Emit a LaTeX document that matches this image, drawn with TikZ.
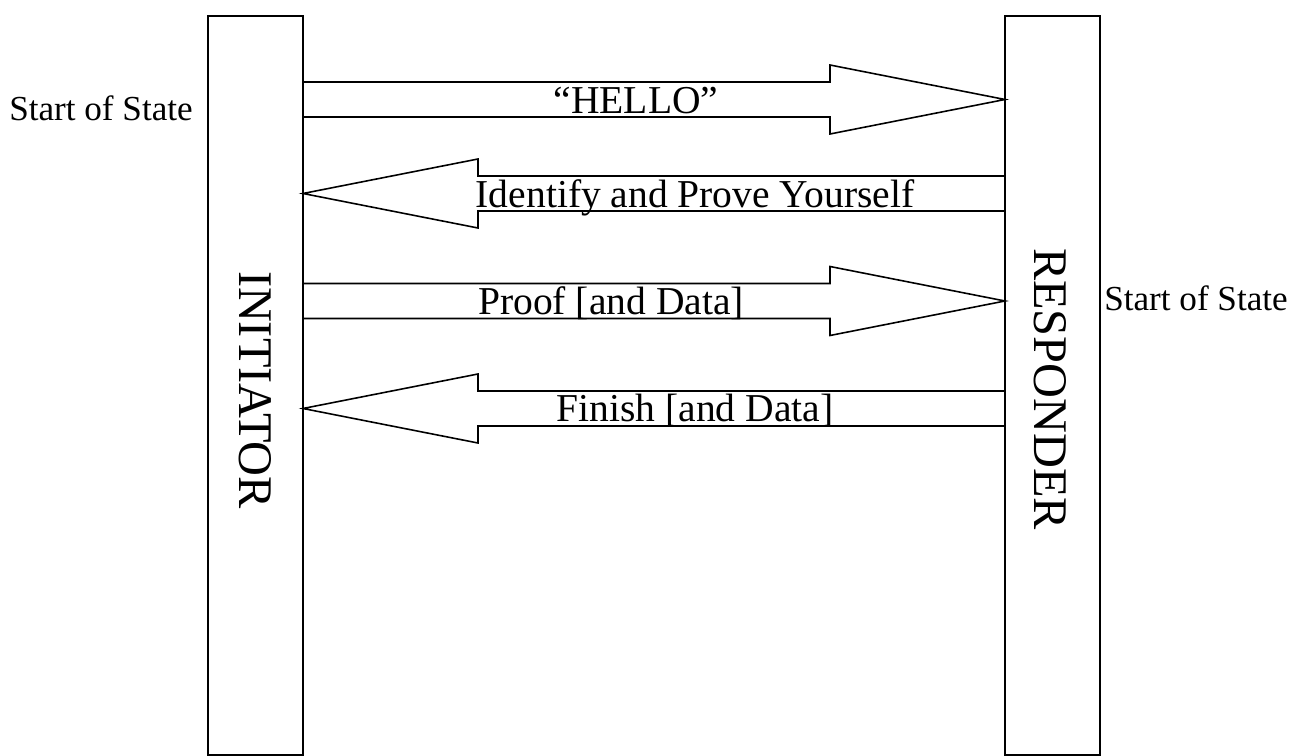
\documentclass[tikz,border=0pt]{standalone}
\usepackage{fontspec}
\setmainfont{Liberation Serif}
\tikzset{
  party/.style={draw, line width=1.1pt, minimum width=1.9cm, minimum height=14.78cm,
    anchor=north west, inner sep=0pt, outer sep=0pt},
  partyname/.style={rotate=-90, inner sep=0pt, font=\fontsize{27.5}{32}\selectfont},
  msg/.style={anchor=base, inner sep=0pt, font=\fontsize{22.5}{26}\selectfont},
  note/.style={inner sep=0pt, font=\fontsize{20}{24}\selectfont},
  block/.style={line width=0.9pt}
}
% block arrows between the two parties, #1 = y of the centre line
\def\rblock#1{(init.east |- 0,#1-17.5) -- ++(527,0) -- ++(0,-17) -- (resp.west |- 0,#1) -- ++(-175,34.5) -- ++(0,-17) -- (init.east |- 0,#1+17.5)}
\def\lblock#1{(resp.west |- 0,#1-17.5) -- ++(-527,0) -- ++(0,-17) -- (init.east |- 0,#1) -- ++(175,34.5) -- ++(0,-17) -- (resp.west |- 0,#1+17.5)}

\begin{document}
\begin{tikzpicture}[x=0.02cm, y=-0.02cm]
  \useasboundingbox (0,0) rectangle (1298,756);
  \node[party] (init) at (208,16) {};
  \node[party] (resp) at (1005,16) {};
  \node[partyname] (initname) at (255,390) {INITIATOR};
  \node[partyname] (respname) at (1050,389) {RESPONDER};

  \draw[block] \rblock{99.5};
  \draw[block] \lblock{193.5};
  \draw[block] \rblock{301};
  \draw[block] \lblock{408.5};

  \node[msg] (hello) at (636,113.5) {“HELLO”};
  \node[msg] (identify) at (695,207.5) {Identify and Prove Yourself};
  \node[msg] (proof) at (611,315) {Proof [and Data]};
  \node[msg] (finish) at (695,422) {Finish [and Data]};

  \node[note] (startl) at (101,108) {Start of State};
  \node[note] (startr) at (1196,298) {Start of State};
\end{tikzpicture}
\end{document}
